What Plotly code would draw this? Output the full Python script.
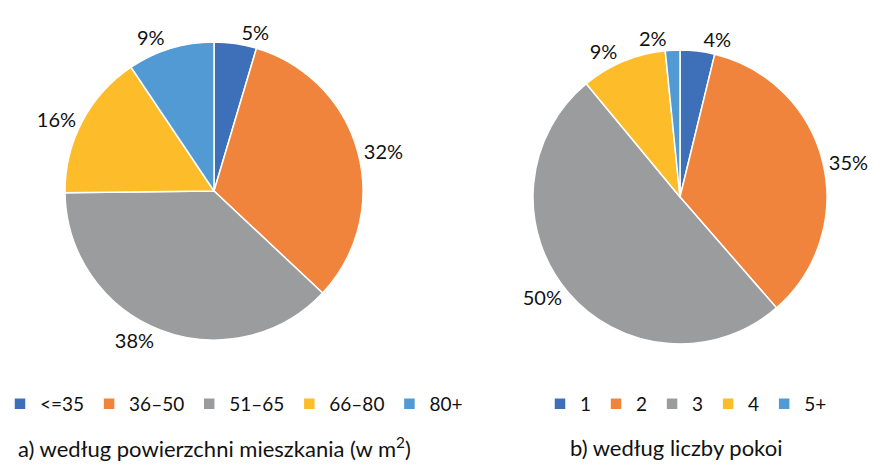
import plotly.graph_objects as go

labels_a = ["<=35", "36–50", "51–65", "66–80", "80+"]
values_a = [4.6, 32.4, 37.8, 15.8, 9.4]
labels_b = ["1", "2", "3", "4", "5+"]
values_b = [3.8, 34.8, 50.4, 9.4, 1.6]
colors = ["#3E70B9", "#F1843D", "#9A9C9D", "#FDBD2A", "#519AD3"]
title_a = "a) według powierzchni mieszkania (w m<sup>2</sup>)"
title_b = "b) według liczby pokoi"

W, H = 882, 466
FONT = "Lato, 'Open Sans', sans-serif"
PCT = "%{percent:.0%}"

def dom(cx, cy, r):
    return dict(x=[(cx - r) / W, (cx + r) / W], y=[1 - (cy + r) / H, 1 - (cy - r) / H])

common = dict(
    sort=False, direction="clockwise", rotation=0,
    textposition="outside",
    outsidetextfont=dict(size=20, color="#111", family=FONT),
)

fig = go.Figure()
fig.add_trace(go.Pie(labels=labels_a, values=values_a, domain=dom(214, 191, 149),
                     texttemplate=PCT, hoverinfo="label+percent",
                     marker=dict(colors=colors, line=dict(color="white", width=1.5)),
                     legend="legend", **common))
# chart b: slices + most labels
fig.add_trace(go.Pie(labels=labels_b, values=values_b, domain=dom(680, 197, 147),
                     texttemplate=[PCT, PCT, PCT, PCT, ""], hoverinfo="label+percent",
                     marker=dict(colors=colors, line=dict(color="white", width=1.5)),
                     legend="legend2", **common))
# chart b: label of the smallest slice drawn by a transparent twin pie
fig.add_trace(go.Pie(labels=labels_b, values=values_b, domain=dom(680, 197, 147),
                     texttemplate=["", "", "", "", PCT], hoverinfo="skip",
                     marker=dict(colors=["rgba(0,0,0,0)"] * 5, line=dict(width=0)),
                     showlegend=False, legend="legend2", **common))

leg = dict(orientation="h", yanchor="middle",
           font=dict(size=19, color="#111", family=FONT), bgcolor="rgba(0,0,0,0)",
           itemclick=False, itemdoubleclick=False, traceorder="normal")
fig.update_layout(
    width=W, height=H, margin=dict(l=0, r=0, t=0, b=0, autoexpand=False),
    paper_bgcolor="white", plot_bgcolor="white",
    showlegend=True,
    legend=dict(x=0, xanchor="left", y=1 - 404 / H, **leg),
    legend2=dict(x=686 / W, xanchor="center", y=1 - 404 / H, **leg),
    annotations=[
        dict(text=title_a, x=214 / W, y=1 - 447 / H, xref="paper", yref="paper",
             showarrow=False, xanchor="center", yanchor="middle",
             font=dict(size=22, color="#111", family=FONT)),
        dict(text=title_b, x=676 / W, y=1 - 447 / H, xref="paper", yref="paper",
             showarrow=False, xanchor="center", yanchor="middle",
             font=dict(size=22, color="#111", family=FONT)),
    ],
)
fig.write_html("out.html", config={"displayModeBar": False},
               post_script="document.body.style.margin='0';document.body.style.overflow='hidden';")
